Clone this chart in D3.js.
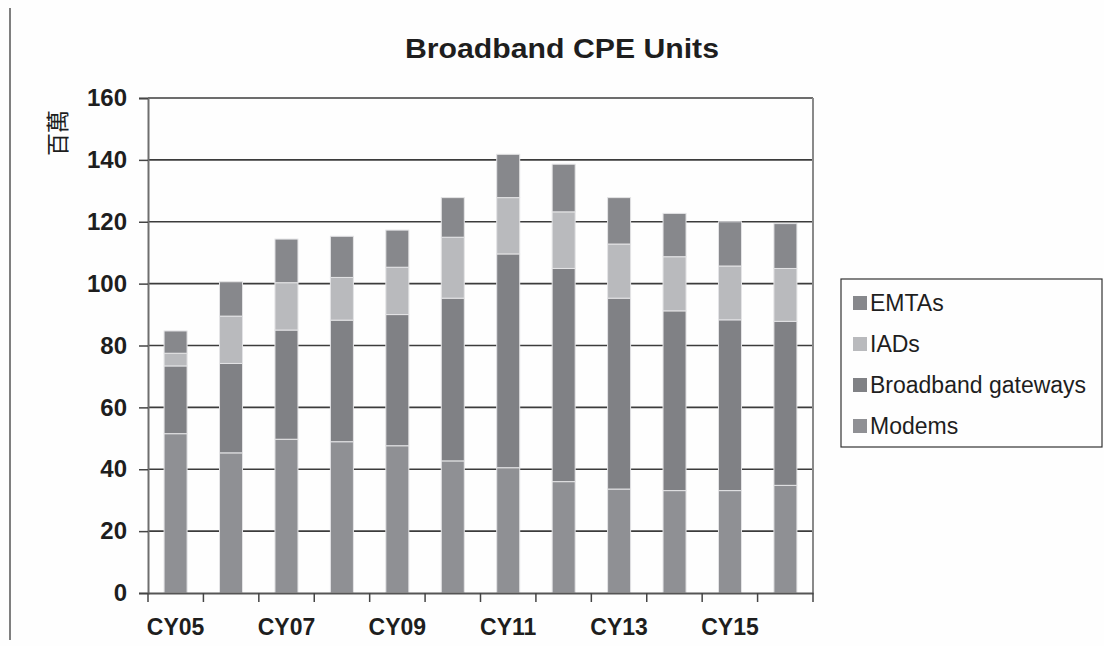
<!DOCTYPE html>
<html>
<head>
<meta charset="utf-8">
<script src="https://cdn.jsdelivr.net/npm/d3@7"></script>
<style>
  body { margin: 0; background: #fefefe; }
  svg { display: block; }
</style>
</head>
<body>
<div id="main"></div>
<script>

var years = ["CY05", "CY06", "CY07", "CY08", "CY09", "CY10", "CY11", "CY12", "CY13", "CY14", "CY15", "CY16"]
var modems   = [51.5, 45.3, 49.7, 48.9, 47.6, 42.7, 40.5, 36.0, 33.6, 33.1, 33.1, 34.8]
var gateways = [21.9, 28.9, 35.3, 39.3, 42.4, 52.6, 69.1, 68.9, 61.7, 58.1, 55.2, 53.0]
var iads     = [4.1, 15.3, 15.3, 13.8, 15.3, 19.7, 18.2, 18.3, 17.5, 17.5, 17.4, 17.1]
var emtas    = [7.2, 11.1, 14.1, 13.3, 12.0, 12.8, 14.0, 15.4, 15.0, 14.0, 14.3, 14.5]
var yTicks   = [0, 20, 40, 60, 80, 100, 120, 140, 160]

var series = ["Modems", "Broadband gateways", "IADs", "EMTAs"]
var colors = { "Modems": "#8f9094", "Broadband gateways": "#808185", "IADs": "#b9babd", "EMTAs": "#87888c" }

var W = 1104, H = 646
var margin = { top: 98, left: 148, right: 291, bottom: 53 }
var w = W - margin.left - margin.right,
    h = H - margin.top - margin.bottom

var rows = years.map(function(y, i) {
  return { year: y, "Modems": modems[i], "Broadband gateways": gateways[i], "IADs": iads[i], "EMTAs": emtas[i] }
})

var svg = d3.select("#main").append("svg")
  .attr("width", W)
  .attr("height", H)

// left border line of the page
svg.append("line")
  .attr("x1", 10).attr("x2", 10)
  .attr("y1", 8).attr("y2", 640)
  .attr("stroke", "#555").attr("stroke-width", 1.5)

var g = svg.append("g")
  .attr("transform", "translate(" + margin.left + "," + margin.top + ")")

var x = d3.scaleBand().domain(years).range([0, w]).paddingInner(0.585).paddingOuter(0.29)
var xTick = d3.scaleBand().domain(years).range([0, w])
var y = d3.scaleLinear().domain([0, 160]).range([h, 0])

// gridlines
g.selectAll(".grid")
  .data(yTicks.filter(function(d) { return d > 0 }))
  .enter().append("line")
  .attr("class", "grid")
  .attr("x1", 0).attr("x2", w)
  .attr("y1", function(d) { return y(d) }).attr("y2", function(d) { return y(d) })
  .attr("stroke", "#3c3c3c").attr("stroke-width", 1.6)

// right edge of plot area
g.append("line")
  .attr("x1", w).attr("x2", w)
  .attr("y1", 0).attr("y2", h)
  .attr("stroke", "#8a8a8a").attr("stroke-width", 2)

var stack = d3.stack().keys(series)
var layers = stack(rows)

g.selectAll(".layer")
  .data(layers)
  .enter().append("g")
  .attr("class", "layer")
  .attr("fill", function(d) { return colors[d.key] })
  .selectAll("rect")
  .data(function(d) { return d })
  .enter().append("rect")
  .attr("x", function(d) { return x(d.data.year) })
  .attr("width", x.bandwidth())
  .attr("y", function(d) { return y(d[1]) })
  .attr("height", function(d) { return y(d[0]) - y(d[1]) })
  .attr("stroke", "#e4e4e6")
  .attr("stroke-width", 1)

// y axis
var yAxis = g.append("g")
  .call(d3.axisLeft(y).tickValues(yTicks).tickSize(9).tickPadding(12))
yAxis.select(".domain").attr("stroke", "#6e6e6e").attr("stroke-width", 2)
yAxis.selectAll(".tick line").attr("stroke", "#444").attr("stroke-width", 1.5)
yAxis.selectAll("text")
  .attr("font-family", "Liberation Sans, Arial, sans-serif")
  .attr("font-size", 24).attr("font-weight", "bold").attr("fill", "#1e1e1e")

// x axis
var xAxis = g.append("g")
  .attr("transform", "translate(0," + h + ")")
  .call(d3.axisBottom(x).tickSize(0).tickPadding(26)
    .tickFormat(function(d, i) { return i % 2 === 0 ? d : "" }))
xAxis.select(".domain").attr("stroke", "#555").attr("stroke-width", 2)
xAxis.selectAll("text")
  .attr("font-family", "Liberation Sans, Arial, sans-serif")
  .attr("font-size", 23).attr("font-weight", "bold").attr("fill", "#1e1e1e")

// x ticks sit on the category boundaries
g.selectAll(".xtick")
  .data(years.concat(["end"]))
  .enter().append("line")
  .attr("class", "xtick")
  .attr("x1", function(d, i) { return i * xTick.step() })
  .attr("x2", function(d, i) { return i * xTick.step() })
  .attr("y1", h).attr("y2", h + 9)
  .attr("stroke", "#444").attr("stroke-width", 1.5)

// title
svg.append("text")
  .attr("x", 562).attr("y", 58)
  .attr("text-anchor", "middle")
  .attr("font-family", "Liberation Sans, Arial, sans-serif")
  .attr("font-size", 27).attr("font-weight", "bold")
  .attr("textLength", 314).attr("lengthAdjust", "spacingAndGlyphs")
  .attr("fill", "#1e1e1e")
  .text("Broadband CPE Units")

// y label
svg.append("text")
  .attr("transform", "translate(66,133) rotate(-90)")
  .attr("text-anchor", "middle")
  .attr("font-family", "Noto Sans CJK TC, sans-serif")
  .attr("font-size", 23)
  .attr("fill", "#1e1e1e")
  .text("百萬")

// legend
var legend = svg.append("g").attr("transform", "translate(841,279)")
legend.append("rect")
  .attr("width", 261).attr("height", 168)
  .attr("fill", "#fefefe").attr("stroke", "#333").attr("stroke-width", 1.2)

var legendKeys = series.slice().reverse()
var item = legend.selectAll(".item")
  .data(legendKeys)
  .enter().append("g")
  .attr("class", "item")
  .attr("transform", function(d, i) { return "translate(12," + (24 + i * 41) + ")" })
item.append("rect")
  .attr("x", 0).attr("y", -7)
  .attr("width", 14).attr("height", 14)
  .attr("fill", function(d) { return colors[d] })
item.append("text")
  .attr("x", 17).attr("y", 8)
  .attr("font-family", "Liberation Sans, Arial, sans-serif")
  .attr("font-size", 23)
  .attr("fill", "#1e1e1e")
  .text(function(d) { return d })

</script>
</body>
</html>
